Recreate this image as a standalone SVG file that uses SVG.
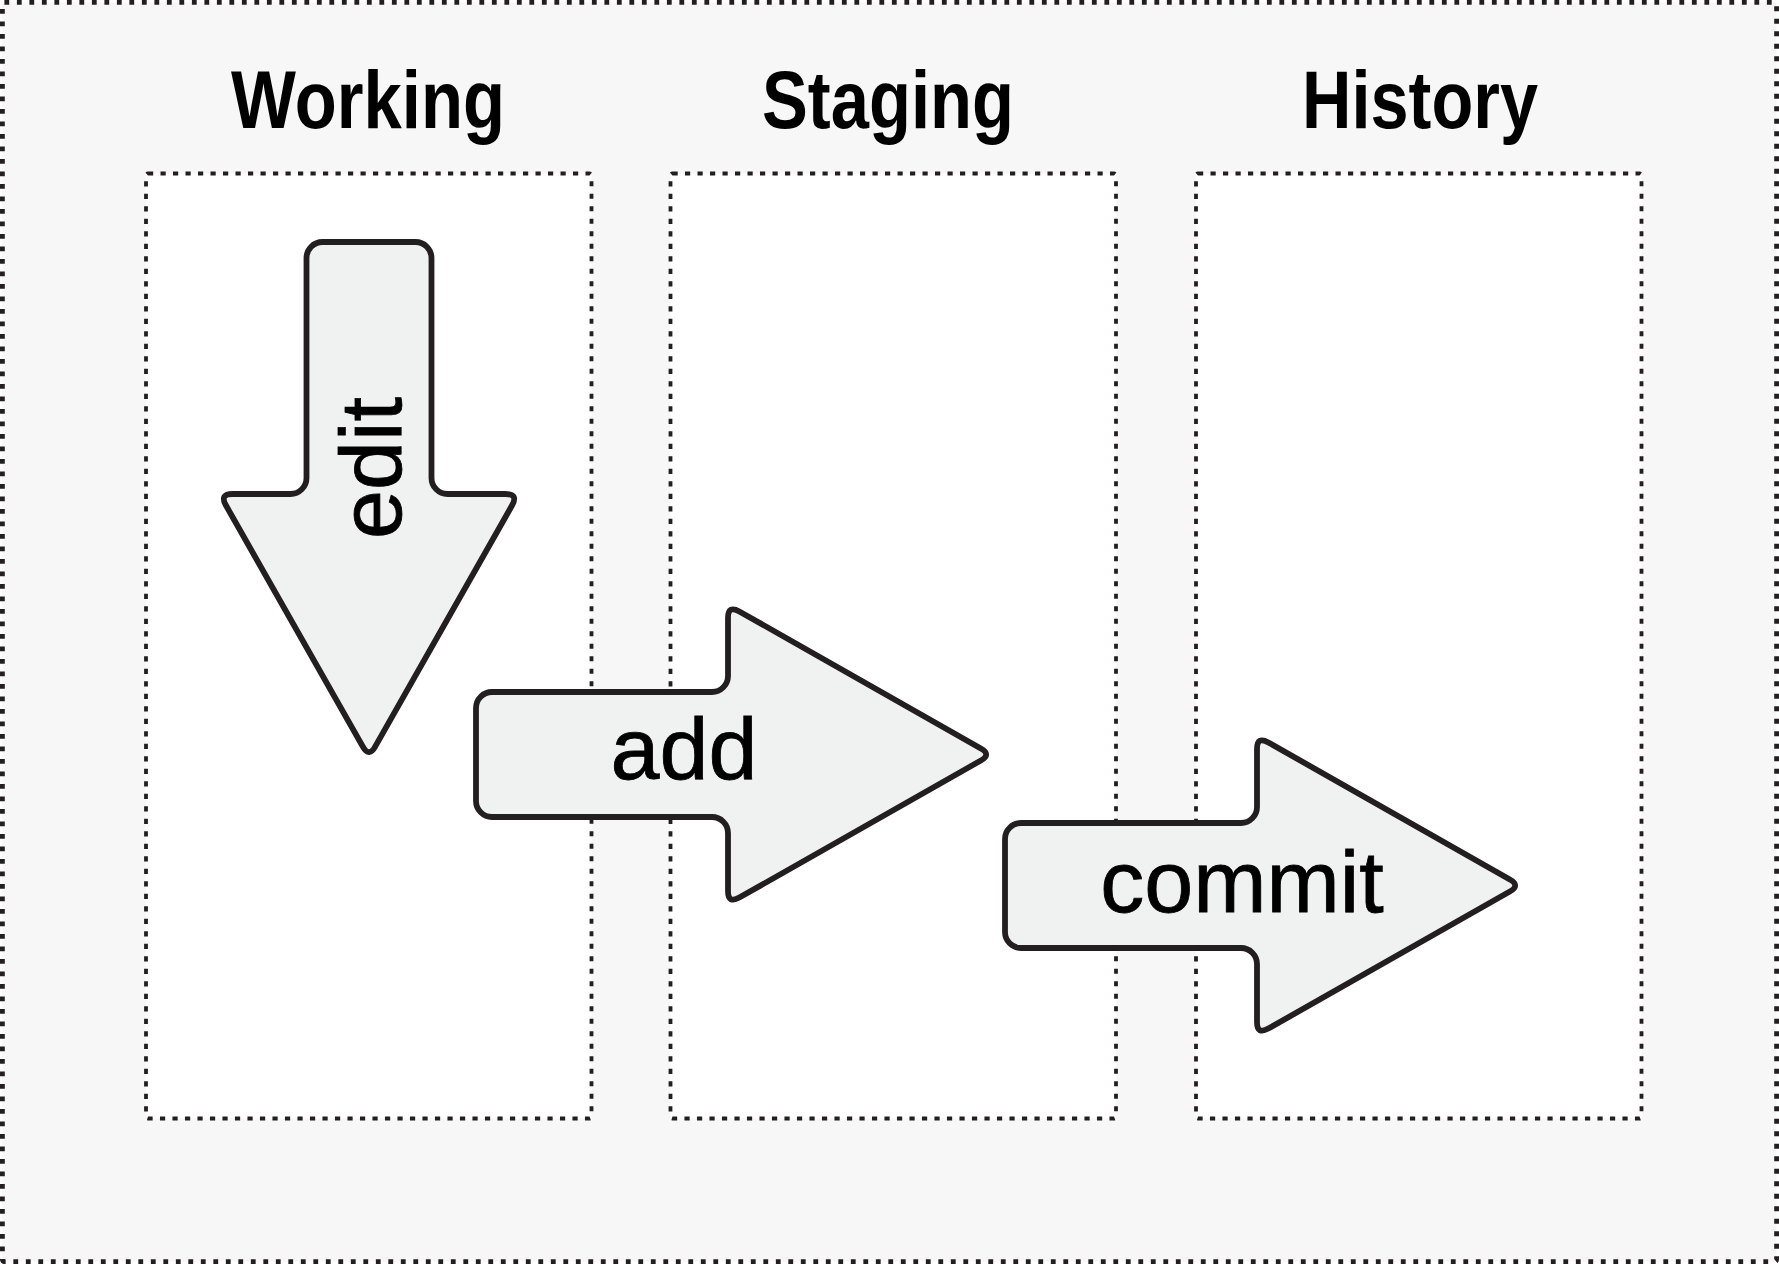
<svg xmlns="http://www.w3.org/2000/svg" width="1779" height="1264" viewBox="0 0 1779 1264">
<style>
.frame{fill:#f7f7f7;stroke:#231f20;stroke-width:4.8;stroke-dasharray:4.8 7.7}
.box{fill:#ffffff;stroke:#231f20;stroke-width:3.8;stroke-dasharray:5.2 7.3}
.title{font-family:"Liberation Sans Narrow","Liberation Sans",Arial,sans-serif;font-weight:bold;font-size:82px;fill:#000;text-anchor:middle}
.arrow{fill:#f0f2f1;stroke:#231f20;stroke-width:5.8;stroke-linejoin:round}
.lbl{font-family:"Liberation Sans",Arial,Helvetica,sans-serif;font-size:88px;fill:#000;stroke:#000;stroke-width:0.8;text-anchor:middle}
</style>
<defs>
<path id="arr" d="M 0,-46.5 A 16 16 0 0 1 16,-62.5 L 236,-62.5 A 16 16 0 0 0 252,-78.5 L 252,-136.5 Q 252,-149.5 263.3,-143.1 L 504.4,-6.3 Q 516,0 504.4,6.3 L 263.3,143.1 Q 252,149.5 252,136.5 L 252,78.5 A 16 16 0 0 0 236,62.5 L 16,62.5 A 16 16 0 0 1 0,46.5 Z"/>
</defs>
<rect class="frame" x="2.4" y="2.4" width="1774.2" height="1259.2" rx="2"/>
<g id="working">
<rect class="box" x="146" y="173.5" width="445.5" height="945" rx="2"/>
<text class="title" x="368" y="128" textLength="274" lengthAdjust="spacingAndGlyphs">Working</text>
</g>
<g id="staging">
<rect class="box" x="670.5" y="173.5" width="445.5" height="945" rx="2"/>
<text class="title" x="888" y="128" textLength="252" lengthAdjust="spacingAndGlyphs">Staging</text>
</g>
<g id="history">
<rect class="box" x="1196" y="173.5" width="445.5" height="945" rx="2"/>
<text class="title" x="1420" y="128" textLength="236" lengthAdjust="spacingAndGlyphs">History</text>
</g>
<g id="connectors">
<g id="edit">
<use href="#arr" class="arrow" transform="translate(369,242) rotate(90)"/>
<text class="lbl" transform="translate(401,468) rotate(-90)">edit</text>
</g>
<g id="add">
<use href="#arr" class="arrow" transform="translate(476,754.5)"/>
<text class="lbl" x="684" y="779">add</text>
</g>
<g id="commit">
<use href="#arr" class="arrow" transform="translate(1005,885.5)"/>
<text class="lbl" x="1242" y="912">commit</text>
</g>
</g>
</svg>
